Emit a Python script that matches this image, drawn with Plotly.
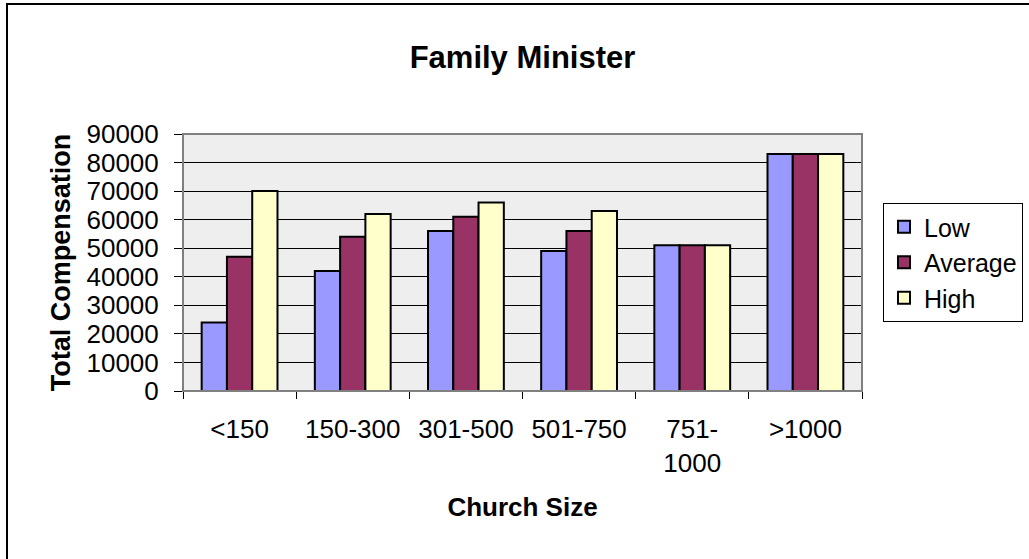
import plotly.graph_objects as go

categories = ["<150", "150-300", "301-500", "501-750", "751-<br>1000", ">1000"]
low = [24000, 42000, 56000, 49000, 51000, 83000]
average = [47000, 54000, 61000, 56000, 51000, 83000]
high = [70000, 62000, 66000, 63000, 51000, 83000]
y_ticks = [0, 10000, 20000, 30000, 40000, 50000, 60000, 70000, 80000, 90000]

FONT = "Liberation Sans, Arial, sans-serif"
W, H = 1029, 559
L, R, T, B = 183, 167, 134, 168
PW, PH = W - L - R, H - T - B

fig = go.Figure()
for name, vals, col in [("Low", low, "#9999FF"), ("Average", average, "#993366"), ("High", high, "#FFFFCC")]:
    fig.add_trace(go.Bar(name=name, x=categories, y=vals,
                         marker=dict(color=col, line=dict(color="#000000", width=2))))

fig.update_layout(
    width=W, height=H,
    margin=dict(l=L, r=R, t=T, b=B, autoexpand=False),
    paper_bgcolor="#FFFFFF", plot_bgcolor="#EEEEEE",
    barmode="group", bargap=0.33, bargroupgap=0,
    font=dict(family=FONT, color="#000000", size=26),
    title=dict(text="<b>Family Minister</b>", x=(L + PW / 2) / W, xanchor="center",
               y=1 - 57 / H, yanchor="middle", font=dict(size=31, family=FONT, color="#000000")),
    legend=dict(x=(883 - L) / PW, xanchor="left", y=(H - B - 203) / PH, yanchor="top",
                bordercolor="#000000", borderwidth=1, bgcolor="#FFFFFF",
                font=dict(size=25, family=FONT), traceorder="normal"),
    showlegend=True,
)

fig.update_xaxes(type="category", showgrid=False, tickson="boundaries", ticks="outside",
                 ticklen=7, tickcolor="#000000", showline=True, linecolor="#000000", linewidth=1,
                 tickfont=dict(size=26, family=FONT), ticklabelstandoff=15,
                 title=dict(text="<b>Church Size</b>", font=dict(size=26, family=FONT), standoff=20))
fig.update_yaxes(range=[0, 90000], tickvals=y_ticks, ticktext=[str(v) for v in y_ticks],
                 showgrid=True, gridcolor="#000000", gridwidth=1, zeroline=False,
                 ticks="outside", ticklen=8, tickcolor="#000000",
                 showline=True, linecolor="#000000", linewidth=1,
                 tickfont=dict(size=26, family=FONT), ticklabelstandoff=10,
                 title=dict(text="<b>Total Compensation</b>", font=dict(size=27, family=FONT), standoff=8))

# plot-area frame (gray, Excel style) and outer chart border
fig.add_shape(type="rect", xref="paper", yref="paper", x0=0, x1=1, y0=0, y1=1,
              line=dict(color="#808080", width=2), layer="above")
fig.add_shape(type="rect", xref="paper", yref="paper",
              x0=(7 - L) / PW, x1=(W + 20 - L) / PW,
              y0=(H - B - (H + 20)) / PH, y1=(H - B - 4) / PH,
              line=dict(color="#000000", width=2), layer="above")

fig.write_html("out.html", config={"displayModeBar": False},
               post_script="document.body.style.margin='0';")
